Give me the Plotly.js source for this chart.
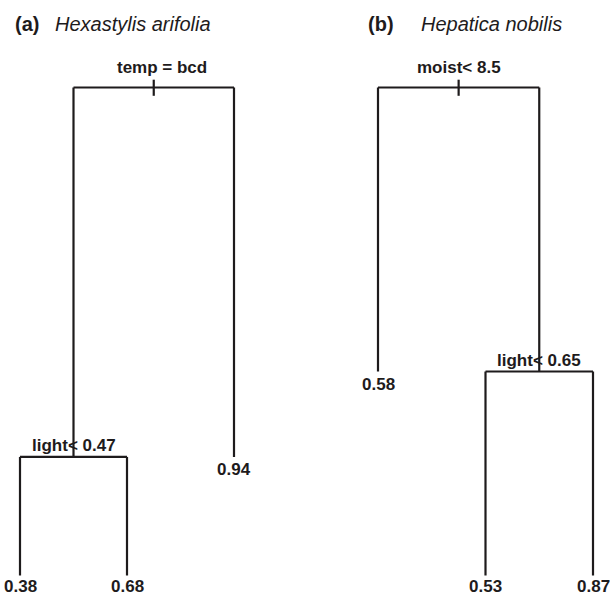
<!DOCTYPE html>
<html>
<head>
<meta charset="utf-8">
<script src="https://cdn.plot.ly/plotly-3.0.1.min.js"></script>
<style>html,body{margin:0;padding:0;background:#fff;}#chart{width:610px;height:593px;}</style>
</head>
<body>
<div id="chart"></div>
<script>
// ---- Data ----
const panelTags = ['(a)', '(b)'];
const speciesNames = ['Hexastylis arifolia', 'Hepatica nobilis'];

// Panel (a): tree nodes (parent index, height on the tree's vertical scale)
const nodeLabelsA = ['temp = bcd', 'light< 0.47', '0.38', '0.68', '0.94'];
const nodeParentA = [-1, 0, 1, 1, 0];
const nodeHeightA = [1, 0.243, 0, 0, 0.243];

// Panel (b)
const nodeLabelsB = ['moist< 8.5', '0.58', 'light< 0.65', '0.53', '0.87'];
const nodeParentB = [-1, 0, 0, 2, 2];
const nodeHeightB = [1, 0.418, 0.418, 0, 0];

// ---- Build tree geometry ----
const INK = '#1e1b1c';
const FONT = 'Liberation Sans, Arial, Helvetica, sans-serif';

function layoutTree(labels, parents, heights) {
  const n = labels.length;
  const children = Array.from({length: n}, () => []);
  parents.forEach((p, i) => { if (p >= 0) children[p].push(i); });
  const xs = new Array(n);
  let leafCounter = 0;
  function place(i) {
    if (children[i].length === 0) { leafCounter += 1; xs[i] = leafCounter; return; }
    children[i].forEach(place);
    const c = children[i];
    xs[i] = (xs[c[0]] + xs[c[c.length - 1]]) / 2;
  }
  const root = parents.indexOf(-1);
  place(root);
  return {children, xs, root};
}

function buildPanel(labels, parents, heights, xref, rootXShift) {
  const t = layoutTree(labels, parents, heights);
  const lx = [], ly = [];
  const ann = [];
  labels.forEach((lab, i) => {
    const ch = t.children[i];
    if (ch.length) {
      lx.push(t.xs[ch[0]], t.xs[ch[ch.length - 1]], null);
      ly.push(heights[i], heights[i], null);
      ch.forEach(c => {
        lx.push(t.xs[c], t.xs[c], null);
        ly.push(heights[i], heights[c], null);
      });
      const isRoot = i === t.root;
      ann.push({
        xref: xref, yref: 'y', x: t.xs[i], y: heights[i], text: lab,
        showarrow: false, xanchor: 'center', yanchor: 'bottom',
        yshift: isRoot ? 9 : 0, xshift: isRoot ? rootXShift : 0,
        font: {family: FONT, size: 17, color: INK, weight: 700}
      });
    } else {
      ann.push({
        xref: xref, yref: 'y', x: t.xs[i], y: heights[i], text: lab,
        showarrow: false, xanchor: 'center', yanchor: 'top', yshift: heights[i] > 0 ? -1 : 1,
        font: {family: FONT, size: 17, color: INK, weight: 700}
      });
    }
  });
  const r = t.root;
  lx.push(null, t.xs[r], t.xs[r]);
  ly.push(null, heights[r] + 0.016, heights[r] - 0.017);
  return {trace: {
    x: lx, y: ly, mode: 'lines', xaxis: xref, yaxis: 'y',
    line: {color: INK, width: 2.2}, hoverinfo: 'skip', showlegend: false, connectgaps: false
  }, ann};
}

const pa = buildPanel(nodeLabelsA, nodeParentA, nodeHeightA, 'x', 8);
const pb = buildPanel(nodeLabelsB, nodeParentB, nodeHeightB, 'x2', 0);

const titleAnn = [
  {xref: 'paper', yref: 'paper', x: 13 / 610, y: 1 - 24 / 593, text: panelTags[0], showarrow: false,
   xanchor: 'left', yanchor: 'middle', font: {family: FONT, size: 20, color: INK, weight: 700}},
  {xref: 'paper', yref: 'paper', x: 53 / 610, y: 1 - 24 / 593, text: speciesNames[0], showarrow: false,
   xanchor: 'left', yanchor: 'middle', font: {family: FONT, size: 20, color: INK, style: 'italic'}},
  {xref: 'paper', yref: 'paper', x: 366 / 610, y: 1 - 24 / 593, text: panelTags[1], showarrow: false,
   xanchor: 'left', yanchor: 'middle', font: {family: FONT, size: 20, color: INK, weight: 700}},
  {xref: 'paper', yref: 'paper', x: 419 / 610, y: 1 - 24 / 593, text: speciesNames[1], showarrow: false,
   xanchor: 'left', yanchor: 'middle', font: {family: FONT, size: 20, color: INK, style: 'italic'}}
];

const hidden = {visible: false, showgrid: false, zeroline: false, fixedrange: true};
const layout = {
  width: 610, height: 593,
  margin: {l: 0, r: 0, t: 0, b: 0},
  paper_bgcolor: '#fff', plot_bgcolor: '#fff',
  showlegend: false,
  xaxis: Object.assign({domain: [0, 1], range: [1 - 20 / 107, 1 + 590 / 107]}, hidden),
  xaxis2: Object.assign({domain: [0, 1], overlaying: 'x', range: [1 - 378 / 107.5, 1 + 232 / 107.5]}, hidden),
  yaxis: Object.assign({domain: [0, 1], range: [-17.5 / 488, 1 + 87.5 / 488]}, hidden),
  annotations: pa.ann.concat(pb.ann, titleAnn)
};

Plotly.newPlot('chart', [pa.trace, pb.trace], layout, {displayModeBar: false, staticPlot: true});
</script>
</body>
</html>
